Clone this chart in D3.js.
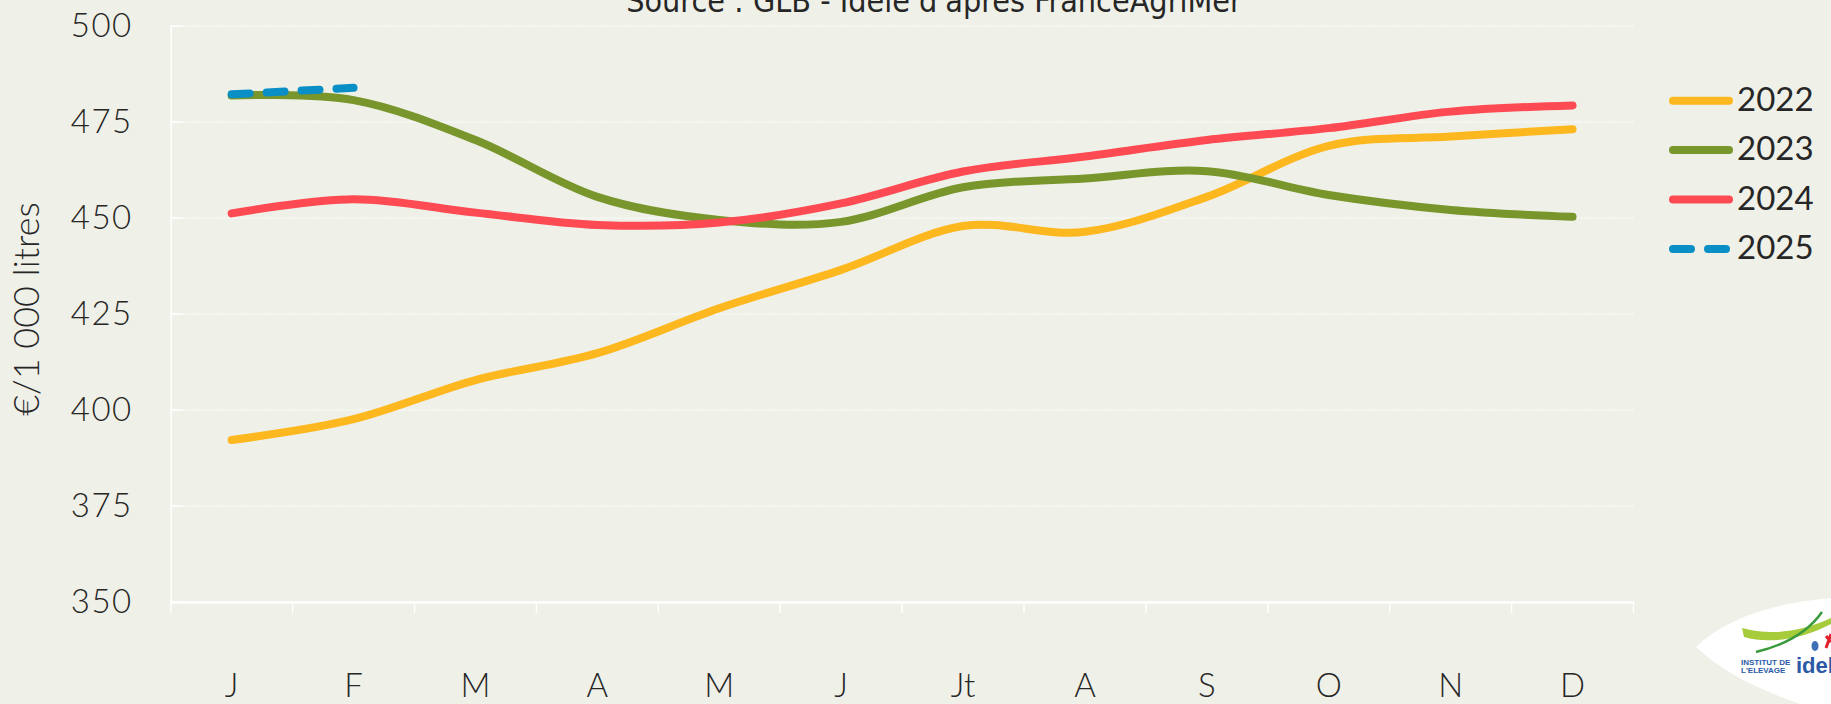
<!DOCTYPE html>
<html>
<head>
<meta charset="utf-8">
<script src="https://cdn.jsdelivr.net/npm/d3@7"></script>
<style>
  html, body { margin: 0; padding: 0; background: #eff0e8; overflow: hidden; }
  svg { display: block; }
</style>
</head>
<body>
<div id="chart"></div>
<script>
// monthly milk price, €/1 000 litres
var months = ["J", "F", "M", "A", "M", "J", "Jt", "A", "S", "O", "N", "D"];
var years = ["2022", "2023", "2024", "2025"];
var values2022 = [392.2, 397.6, 407.8, 414.8, 426.5, 436.5, 447.9, 446.4, 455.5, 468.8, 471.2, 473.1];
var values2023 = [481.9, 480.7, 470.3, 455.5, 449.5, 449.0, 458.0, 460.3, 462.2, 456.0, 452.1, 450.3];
var values2024 = [451.2, 454.9, 451.4, 448.2, 448.8, 453.8, 462.1, 466.0, 470.3, 473.4, 477.7, 479.3];
var values2025 = [482.2, 483.9];
var yTicks = [350, 375, 400, 425, 450, 475, 500];

var colors = { "2022": "#fdb71f", "2023": "#78962b", "2024": "#fe4a52", "2025": "#0a8ec6" };

var series = [
  { name: "2022", values: values2022 },
  { name: "2023", values: values2023 },
  { name: "2024", values: values2024 },
  { name: "2025", values: values2025, dashed: true }
];

var width = 1831, height = 704;
var plotLeft = 170.7, plotRight = 1633.5, plotTop = 26, plotBottom = 602;

var svg = d3.select("#chart").append("svg")
            .attr("width", width)
            .attr("height", height);

var x = d3.scaleBand()
          .domain(d3.range(months.length))
          .range([plotLeft, plotRight]);

var y = d3.scaleLinear()
          .domain([350, 500])
          .range([plotBottom, plotTop]);

// title, cut at the top like the original
svg.append("text")
   .attr("x", 934)
   .attr("y", 11.5)
   .attr("text-anchor", "middle")
   .style("font-family", "'Liberation Sans Narrow', 'DejaVu Sans Condensed', 'Roboto', sans-serif")
   .style("font-size", "32px")
   .style("fill", "#262626")
   .text("Source : GLB - Idele d'après FranceAgriMer");

// horizontal gridlines
var grid = svg.append("g");
grid.selectAll("line.grid")
    .data(yTicks.filter(function (d) { return d !== 350; }))
    .enter()
    .append("line")
    .attr("class", "grid")
    .attr("x1", plotLeft)
    .attr("x2", plotRight)
    .attr("y1", function (d) { return y(d); })
    .attr("y2", function (d) { return y(d); })
    .style("stroke", "#ffffff")
    .style("stroke-width", 1)
    .style("stroke-dasharray", "2,1");

grid.selectAll("line.tick")
    .data(yTicks)
    .enter()
    .append("line")
    .attr("class", "tick")
    .attr("x1", plotLeft)
    .attr("x2", plotLeft + 12)
    .attr("y1", function (d) { return y(d); })
    .attr("y2", function (d) { return y(d); })
    .style("stroke", "#ffffff")
    .style("stroke-width", 1.5);

// y axis
var yAxis = svg.append("g")
               .attr("transform", "translate(" + plotLeft + ",0)")
               .call(d3.axisLeft(y).tickValues(yTicks).tickSize(0).tickPadding(38));
yAxis.select(".domain").style("stroke", "#ffffff").style("stroke-width", 1.5);
yAxis.selectAll("text")
     .style("font-family", "Lato, 'Liberation Sans', sans-serif")
     .style("font-weight", 300)
     .style("font-size", "33px")
     .style("letter-spacing", "1.5px")
     .style("fill", "#262626");

// x axis
var xAxis = svg.append("g")
               .attr("transform", "translate(0," + plotBottom + ")")
               .call(d3.axisBottom(x)
                       .tickFormat(function (i) { return months[i]; })
                       .tickSize(0)
                       .tickPadding(72));
xAxis.select(".domain").style("stroke", "#ffffff").style("stroke-width", 2.5);
xAxis.selectAll("text")
     .style("font-family", "Lato, 'Liberation Sans', sans-serif")
     .style("font-weight", 300)
     .style("font-size", "33px")
     .style("fill", "#262626");

svg.append("g").selectAll("line")
   .data(d3.range(months.length + 1))
   .enter()
   .append("line")
   .attr("x1", function (i) { return plotLeft + i * x.step(); })
   .attr("x2", function (i) { return plotLeft + i * x.step(); })
   .attr("y1", plotBottom)
   .attr("y2", plotBottom + 11)
   .style("stroke", "#ffffff")
   .style("stroke-width", 1.5);

// y axis title
svg.append("text")
   .attr("transform", "translate(39,309) rotate(-90)")
   .attr("text-anchor", "middle")
   .style("font-family", "Lato, 'Liberation Sans', sans-serif")
   .style("font-weight", 300)
   .style("font-size", "36px")
   .style("fill", "#262626")
   .text("€/1 000 litres");

// lines
var line = d3.line()
             .x(function (d, i) { return x(i) + x.bandwidth() / 2; })
             .y(function (d) { return y(d); })
             .curve(d3.curveCardinal.tension(0));

svg.append("g").selectAll("path")
   .data(series)
   .enter()
   .append("path")
   .attr("d", function (d) { return line(d.values); })
   .style("fill", "none")
   .style("stroke", function (d) { return colors[d.name]; })
   .style("stroke-width", 8)
   .style("stroke-linecap", "round")
   .style("stroke-linejoin", "round")
   .style("stroke-dasharray", function (d) { return d.dashed ? "18,17" : null; });

// legend
var legend = svg.append("g").selectAll("g")
                .data(series)
                .enter()
                .append("g")
                .attr("transform", function (d, i) { return "translate(0," + (100.7 + i * 49.4) + ")"; });

legend.append("line")
      .attr("x1", 1673)
      .attr("x2", 1729)
      .style("stroke", function (d) { return colors[d.name]; })
      .style("stroke-width", 8)
      .style("stroke-linecap", "round")
      .style("stroke-dasharray", function (d) { return d.dashed ? "18,17" : null; });

legend.append("text")
      .attr("x", 1737)
      .attr("y", 10)
      .style("font-family", "Lato, 'Liberation Sans', sans-serif")
      .style("font-size", "33px")
      .style("fill", "#262626")
      .text(function (d) { return d.name; });

// idele logo, bottom right (cut at the edge)
var logo = svg.append("g");
logo.append("path")
    .attr("d", "M1696,647 C1725,618 1775,603 1831,598 L1831,704 L1800,704 C1760,690 1722,672 1696,647 Z")
    .style("fill", "#ffffff");
logo.append("path")
    .attr("d", "M1742,628 C1770,636 1800,632 1831,618 L1831,624 C1800,640 1768,644 1744,637 Z")
    .style("fill", "#a6cb3b");
logo.append("path")
    .attr("d", "M1756,652 C1785,645 1808,632 1822,612")
    .style("fill", "none")
    .style("stroke", "#3b9a3c")
    .style("stroke-width", 2.5);
logo.append("path")
    .attr("d", "M1826,636 L1831,642 M1831,634 L1826,648")
    .style("fill", "none")
    .style("stroke", "#e2222b")
    .style("stroke-width", 3);
logo.append("ellipse")
    .attr("cx", 1815)
    .attr("cy", 646)
    .attr("rx", 3.5)
    .attr("ry", 5)
    .style("fill", "#3d6fb6");
logo.append("text")
    .attr("x", 1741)
    .attr("y", 665)
    .style("font-family", "'Liberation Sans', sans-serif")
    .style("font-weight", "bold")
    .style("font-size", "8px")
    .style("fill", "#2a5aa6")
    .text("INSTITUT DE");
logo.append("text")
    .attr("x", 1741)
    .attr("y", 673)
    .style("font-family", "'Liberation Sans', sans-serif")
    .style("font-weight", "bold")
    .style("font-size", "8px")
    .style("fill", "#2a5aa6")
    .text("L'ELEVAGE");
logo.append("text")
    .attr("x", 1796)
    .attr("y", 673)
    .style("font-family", "'Liberation Sans', sans-serif")
    .style("font-weight", "bold")
    .style("font-size", "22px")
    .style("fill", "#2a5aa6")
    .text("idele");
</script>
</body>
</html>
